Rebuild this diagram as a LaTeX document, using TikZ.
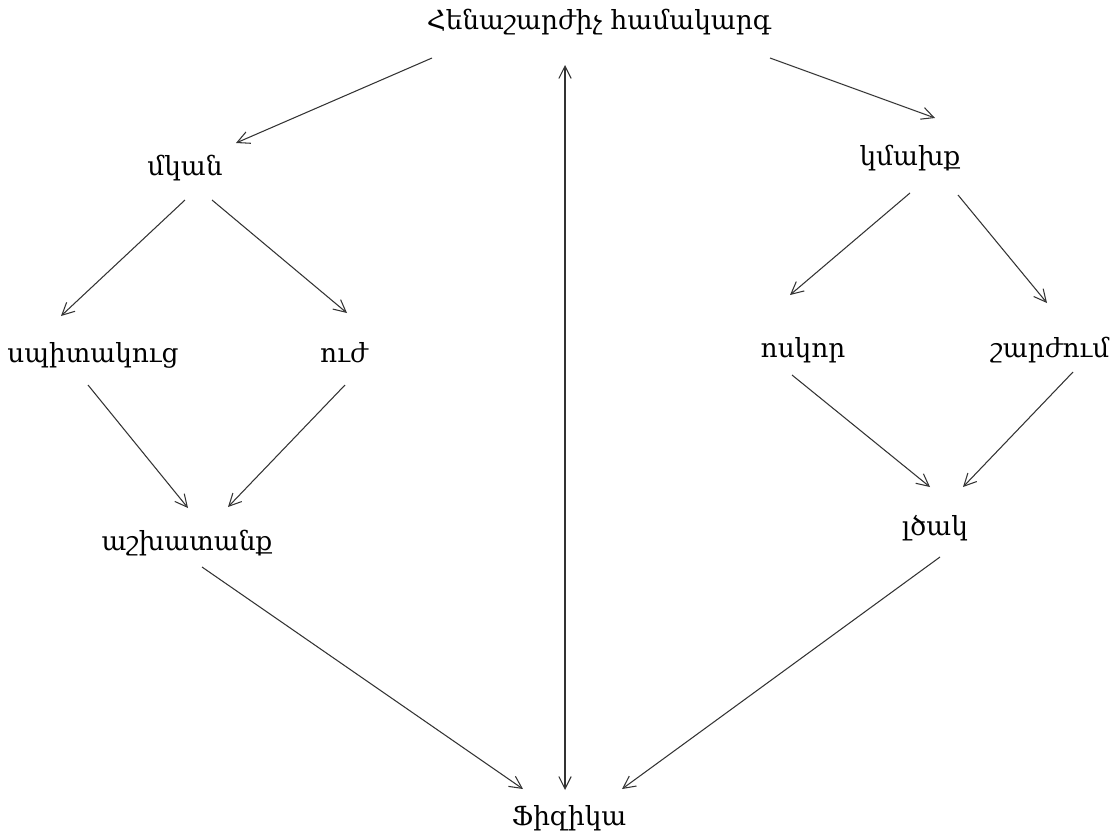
\documentclass[tikz,border=0pt]{standalone}
\usepackage{fontspec}
\setmainfont{DejaVu Serif}
\usetikzlibrary{arrows.meta}

\begin{document}
\begin{tikzpicture}[x=0.02cm, y=-0.02cm,
    word/.style={font=\fontsize{15}{18}\selectfont, inner sep=0pt},
    arr/.style={draw=black!80, line width=0.6pt, -{Straight Barb[length=7pt,width=7pt]}}]
    % Keep the page the size of the scan
    \useasboundingbox (0,0) rectangle (1119,839);

    % Top and bottom words
    \node[word] (hena) at (599,22) {Հենաշարժիչ համակարգ};
    \node[word] (fizika) at (569,818) {Ֆիզիկա};

    % Left branch
    \node[word] (mkan) at (185,168) {մկան};
    \node[word] (spitak) at (93,355) {սպիտակուց};
    \node[word] (uzh) at (344,353) {ուժ};
    \node[word] (ashkh) at (187,543) {աշխատանք};

    % Right branch
    \node[word] (kmakh) at (910,158) {կմախք};
    \node[word] (voskor) at (803,350) {ոսկոր};
    \node[word] (sharzh) at (1050,350) {շարժում};
    \node[word] (ltsak) at (935,528) {լծակ};

    % Arrows from the top
    \draw[arr] ([shift={(-167,36)}]hena.center) -- ([shift={(51,-25)}]mkan.center);
    \draw[arr] ([shift={(171,36)}]hena.center) -- ([shift={(25,-40)}]kmakh.center);
    \draw[arr, {Straight Barb[length=7pt,width=7pt]}-{Straight Barb[length=7pt,width=7pt]}]
        ([shift={(-34,43)}]hena.center) -- ([shift={(-4,-28)}]fizika.center);

    % Left branch arrows
    \draw[arr] ([shift={(0,32)}]mkan.center) -- ([shift={(-32,-39)}]spitak.center);
    \draw[arr] ([shift={(27,32)}]mkan.center) -- ([shift={(3,-40)}]uzh.center);
    \draw[arr] ([shift={(-5,30)}]spitak.center) -- ([shift={(1,-35)}]ashkh.center);
    \draw[arr] ([shift={(1,32)}]uzh.center) -- ([shift={(41,-36)}]ashkh.center);
    \draw[arr] ([shift={(15,24)}]ashkh.center) -- ([shift={(-46,-29)}]fizika.center);

    % Right branch arrows
    \draw[arr] ([shift={(0,35)}]kmakh.center) -- ([shift={(-13,-55)}]voskor.center);
    \draw[arr] ([shift={(48,37)}]kmakh.center) -- ([shift={(-3,-47)}]sharzh.center);
    \draw[arr] ([shift={(-11,25)}]voskor.center) -- ([shift={(-5,-41)}]ltsak.center);
    \draw[arr] ([shift={(23,22)}]sharzh.center) -- ([shift={(28,-41)}]ltsak.center);
    \draw[arr] ([shift={(5,29)}]ltsak.center) -- ([shift={(53,-29)}]fizika.center);
\end{tikzpicture}
\end{document}
